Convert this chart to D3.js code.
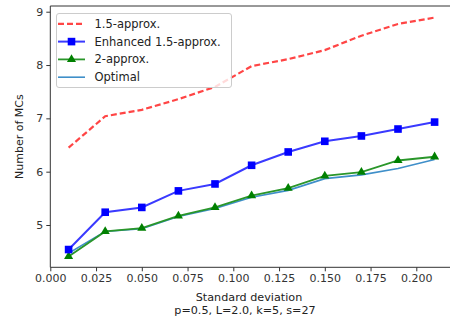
<!DOCTYPE html>
<html lang="en">
<head>
<meta charset="UTF-8">
<title>Number of MCs vs standard deviation</title>
<script src="https://d3js.org/d3.v7.min.js"></script>
<style>
    body { margin: 0; background: #fff; }
    svg { display: block; }
    text { font-family: "DejaVu Sans", sans-serif; fill: #222; }
    .axis path, .axis line { stroke: #333; }
    .axis text { font-size: 11px; fill: #333; }
</style>
</head>
<body>
<div id="chart"></div>
<script>
    const stdDev = [0.01, 0.03, 0.05, 0.07, 0.09, 0.11, 0.13, 0.15, 0.17, 0.19, 0.21];
    const approx15 = [6.45, 7.04, 7.16, 7.36, 7.59, 7.98, 8.11, 8.28, 8.55, 8.77, 8.89];
    const enhanced15 = [4.54, 5.24, 5.33, 5.64, 5.77, 6.12, 6.37, 6.57, 6.67, 6.80, 6.93];
    const approx2 = [4.41, 4.88, 4.94, 5.17, 5.33, 5.55, 5.69, 5.92, 5.99, 6.21, 6.28];
    const optimal = [4.47, 4.88, 4.93, 5.16, 5.31, 5.52, 5.65, 5.87, 5.94, 6.06, 6.23];
    const xTicks = [0.000, 0.025, 0.050, 0.075, 0.100, 0.125, 0.150, 0.175, 0.200];
    const yTicks = [5, 6, 7, 8, 9];

    const width = 450, height = 320;
    const svg = d3.select("#chart").append("svg")
        .attr("width", width)
        .attr("height", height);

    const x = d3.scaleLinear().domain([0, 0.22]).range([50.3, 452.9]);
    const y = d3.scaleLinear().domain([4.207, 9.107]).range([267.3, 6]);

    // clip marks to plot area
    svg.append("clipPath").attr("id", "plot")
        .append("rect")
        .attr("x", x.range()[0]).attr("y", y.range()[1])
        .attr("width", x.range()[1] - x.range()[0])
        .attr("height", y.range()[0] - y.range()[1]);

    // axes
    svg.append("g")
        .attr("class", "axis")
        .attr("transform", `translate(0,${y.range()[0]})`)
        .call(d3.axisBottom(x).tickValues(xTicks).tickFormat(d3.format(".3f")).tickSize(4).tickPadding(3))
        .call(g => g.select(".domain").attr("d", `M${x.range()[0]},0H${x.range()[1]}`));

    svg.append("g")
        .attr("class", "axis")
        .attr("transform", `translate(${x.range()[0]},0)`)
        .call(d3.axisLeft(y).tickValues(yTicks).tickFormat(d3.format("d")).tickSize(4).tickPadding(3))
        .call(g => g.select(".domain").attr("d", `M0,${y.range()[0]}V${y.range()[1]}`));

    // top and right spines
    svg.append("path")
        .attr("d", `M${x.range()[0]},${y.range()[1]}H${x.range()[1]}V${y.range()[0]}`)
        .attr("fill", "none").attr("stroke", "#333");

    const rows = stdDev.map((d, i) => i);
    const plot = svg.append("g").attr("clip-path", "url(#plot)");

    const lineOf = vals => d3.line()
        .x(i => x(stdDev[i]))
        .y(i => y(vals[i]));

    // optimal
    plot.append("path")
        .attr("d", lineOf(optimal)(rows))
        .attr("fill", "none").attr("stroke", "#3f8fc9").attr("stroke-width", 1.6);

    // 2-approx
    plot.append("path")
        .attr("d", lineOf(approx2)(rows))
        .attr("fill", "none").attr("stroke", "#2a962a").attr("stroke-width", 1.8);
    const tri = d3.symbol().type(d3.symbolTriangle).size(36);
    plot.selectAll(".tri").data(rows).enter().append("path")
        .attr("class", "tri")
        .attr("d", tri)
        .attr("transform", i => `translate(${x(stdDev[i])},${y(approx2[i])})`)
        .attr("fill", "#008000");

    // enhanced 1.5-approx
    plot.append("path")
        .attr("d", lineOf(enhanced15)(rows))
        .attr("fill", "none").attr("stroke", "#3a3aff").attr("stroke-width", 2);
    plot.selectAll(".sq").data(rows).enter().append("rect")
        .attr("class", "sq")
        .attr("x", i => x(stdDev[i]) - 3.8)
        .attr("y", i => y(enhanced15[i]) - 3.8)
        .attr("width", 7.6).attr("height", 7.6)
        .attr("fill", "#0000ff");

    // 1.5-approx
    plot.append("path")
        .attr("d", lineOf(approx15)(rows))
        .attr("fill", "none").attr("stroke", "#ff4545").attr("stroke-width", 2.2)
        .attr("stroke-dasharray", "6,3");

    // axis labels
    svg.append("text")
        .attr("transform", `translate(23,${(y.range()[0] + y.range()[1]) / 2}) rotate(-90)`)
        .attr("text-anchor", "middle")
        .style("font-size", "11px")
        .text("Number of MCs");

    svg.append("text")
        .attr("x", 249).attr("y", 301)
        .attr("text-anchor", "middle")
        .style("font-size", "11.2px")
        .text("Standard deviation");
    svg.append("text")
        .attr("x", 245).attr("y", 314)
        .attr("text-anchor", "middle")
        .style("font-size", "11.2px")
        .text("p=0.5, L=2.0, k=5, s=27");

    // legend
    const legendItems = [
        { label: "1.5-approx.", color: "#ff4545", dash: "6,3", marker: null, width: 2.2 },
        { label: "Enhanced 1.5-approx.", color: "#3a3aff", dash: null, marker: "square", width: 2 },
        { label: "2-approx.", color: "#2a962a", dash: null, marker: "triangle", width: 1.8 },
        { label: "Optimal", color: "#3f8fc9", dash: null, marker: null, width: 1.6 }
    ];
    const legend = svg.append("g");
    legend.append("rect")
        .attr("x", 56.5).attr("y", 13.5)
        .attr("width", 175).attr("height", 74)
        .attr("rx", 2.5)
        .attr("fill", "#fff").attr("fill-opacity", 0.8)
        .attr("stroke", "#ccc");
    legendItems.forEach((d, i) => {
        const ly = 23.8 + i * 17.8;
        legend.append("line")
            .attr("x1", 58).attr("x2", 85)
            .attr("y1", ly).attr("y2", ly)
            .attr("stroke", d.color).attr("stroke-width", d.width)
            .attr("stroke-dasharray", d.dash);
        if (d.marker === "square") {
            legend.append("rect")
                .attr("x", 71.5 - 3.8).attr("y", ly - 3.8)
                .attr("width", 7.6).attr("height", 7.6)
                .attr("fill", "#0000ff");
        } else if (d.marker === "triangle") {
            legend.append("path")
                .attr("d", tri)
                .attr("transform", `translate(71.5,${ly})`)
                .attr("fill", "#008000");
        }
        legend.append("text")
            .attr("x", 94.5).attr("y", ly + 4)
            .style("font-size", "11.5px")
            .text(d.label);
    });
</script>
</body>
</html>
